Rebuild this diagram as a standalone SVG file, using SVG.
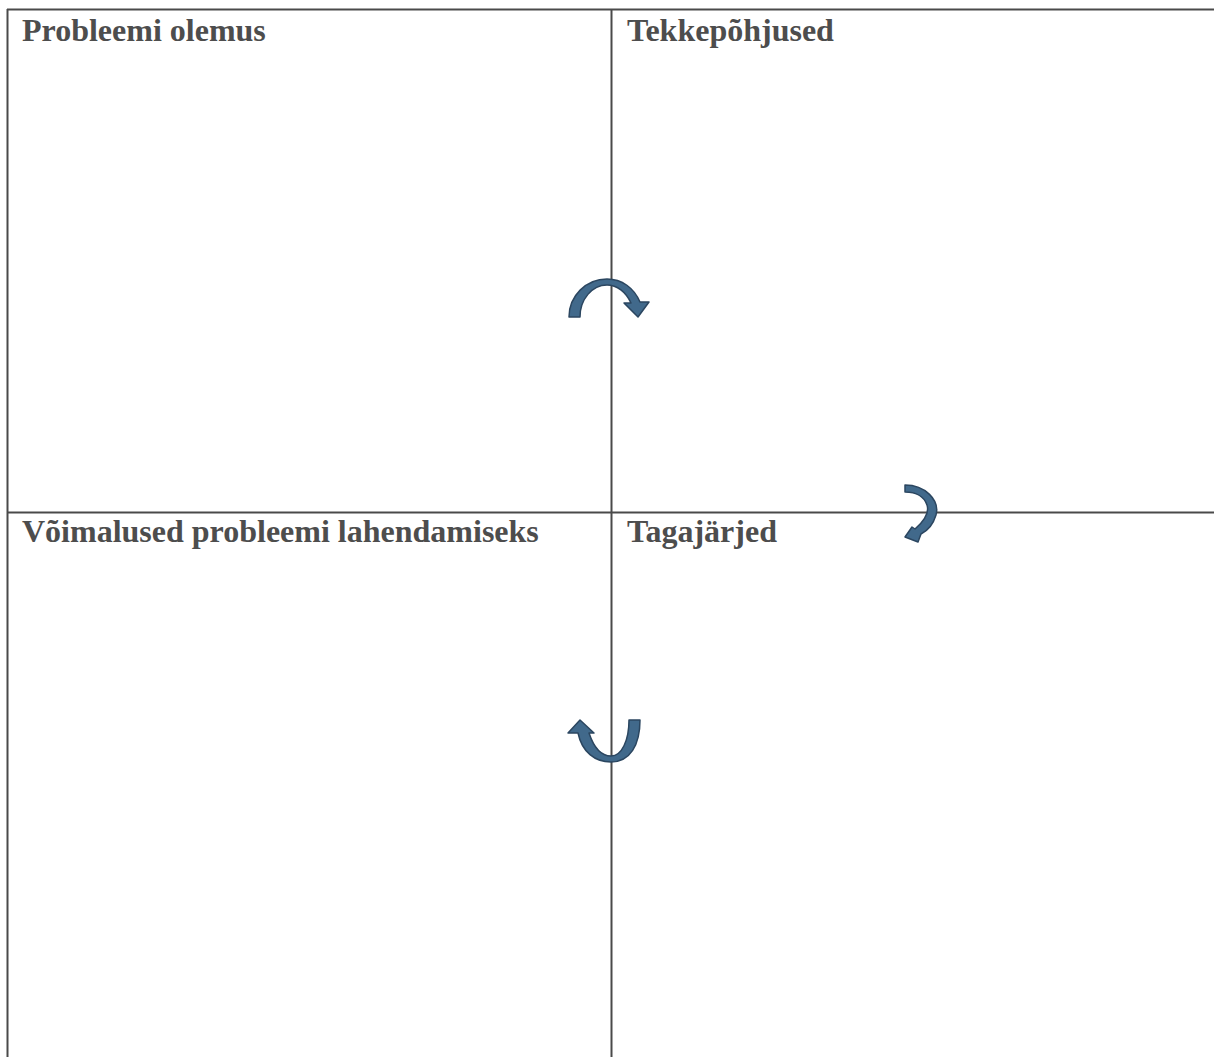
<svg xmlns="http://www.w3.org/2000/svg" width="1214" height="1057" viewBox="0 0 1214 1057">
<style>
.ln{stroke:#4a4a4a;stroke-width:2;fill:none}
.hd{font-family:"Liberation Serif","Times New Roman",serif;font-weight:bold;font-size:32px;fill:#4d4d4d}
.ar{fill:#41698b;stroke:#2b4660;stroke-width:1.5;stroke-linejoin:round}
</style>
<rect width="1214" height="1057" fill="#fff"/>
<g id="grid">
<line class="ln" x1="7" y1="9.5" x2="1214" y2="9.5"/>
<line class="ln" x1="7.5" y1="9" x2="7.5" y2="1057"/>
<line class="ln" x1="611.5" y1="9" x2="611.5" y2="1057"/>
<line class="ln" x1="7" y1="512.5" x2="1214" y2="512.5"/>
</g>
<g id="node-olemus"><text class="hd" x="22" y="41">Probleemi olemus</text></g>
<g id="node-pohjused"><text class="hd" x="627" y="41">Tekkepõhjused</text></g>
<g id="node-lahendused"><text class="hd" x="22" y="542">Võimalused probleemi lahendamiseks</text></g>
<g id="node-tagajarjed"><text class="hd" x="627" y="542">Tagajärjed</text></g>
<g id="connectors">
<path class="ar" d="M569,317 A38,38 0 0 1 607,279 C622,279 634,288 640,302 L649,302 L638,317 L624,303 L631,303 C626,292 617,285 607,285 A27,32 0 0 0 580,317 Z"/>
<path class="ar" d="M905,485 C925,485 940,500 936,515 C933,525 927,531 921,534 L918,542 L905,537 L912,527 L915,529 C923,522 930,514 927,505 C924,496 915,492 905,492 Z"/>
<path class="ar" d="M629,720 L640,720 C640,745 630,762 611,762 C595,762 582,752 578,733 L568,733 L580,720 L594,733 L589,733 C594,748 602,756 611,756 C622,756 629,740 629,720 Z"/>
</g>
</svg>
